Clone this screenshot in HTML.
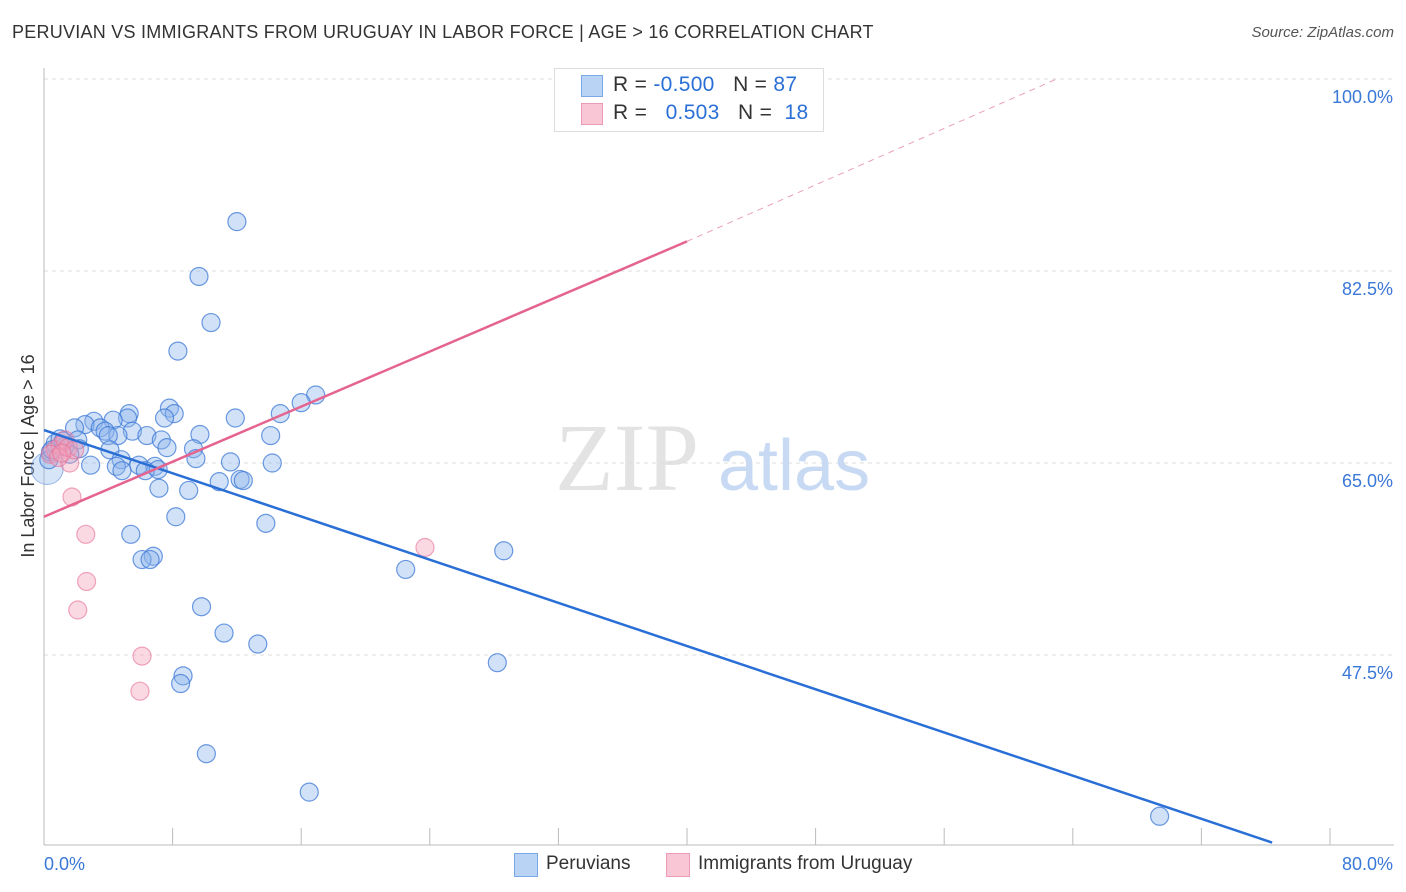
<!DOCTYPE html>
<html><head><meta charset="utf-8"><style>
body{margin:0;background:#fff;font-family:"Liberation Sans",sans-serif}
#wrap{position:relative;width:1406px;height:892px;overflow:hidden}
.t{position:absolute;white-space:nowrap}
</style></head><body>
<div id="wrap">
<div class="t" style="left:12px;top:22px;font-size:18px;letter-spacing:0.25px;color:#333">PERUVIAN VS IMMIGRANTS FROM URUGUAY IN LABOR FORCE | AGE &gt; 16 CORRELATION CHART</div>
<div class="t" style="right:12px;top:24px;font-size:15px;color:#555;font-style:italic">Source: ZipAtlas.com</div>
<svg id="svg" width="1406" height="892" style="position:absolute;left:0;top:0"></svg>
</div>
<script>
const xTicksLbl=["0.0%","80.0%"];
const yTickVals=[100,82.5,65,47.5];
const blueX=[12.0,9.64,10.39,8.33,16.9,16.0,14.7,11.9,7.8,8.1,7.5,5.3,5.2,4.3,3.1,2.55,1.9,3.5,3.8,5.5,4.6,6.4,4.0,9.7,14.1,7.3,2.1,2.2,4.1,9.3,7.65,9.45,4.8,5.9,4.5,2.9,11.6,14.2,6.9,6.3,7.1,4.85,10.9,12.2,12.4,7.15,9.0,8.2,13.8,5.4,6.8,6.1,6.6,22.5,28.6,9.8,11.2,13.3,28.2,8.65,8.5,10.1,16.5,69.4,0.4,0.7,1.0,1.3,1.6,0.3,0.5,1.2];
const blueY=[87.0,82.0,77.8,75.2,71.2,70.5,69.5,69.1,70.0,69.5,69.1,69.5,69.1,68.9,68.8,68.5,68.2,68.2,67.9,67.9,67.5,67.5,67.5,67.6,67.5,67.1,67.1,66.3,66.2,66.3,66.4,65.4,65.3,64.8,64.7,64.8,65.1,65.0,64.7,64.3,64.4,64.3,63.3,63.5,63.4,62.7,62.5,60.1,59.5,58.5,56.5,56.2,56.2,55.3,57.0,51.9,49.5,48.5,46.8,45.6,44.9,38.5,35.0,32.8,66.0,66.8,67.2,66.5,65.8,65.3,66.2,67.0];
const pinkX=[35.3,23.7,1.74,2.6,2.65,2.1,6.1,5.97,1.6,0.7,1.0,1.3,0.4,0.9,1.5,1.9,1.1];
const pinkY=[99.9,57.3,61.9,58.5,54.2,51.6,47.4,44.2,65.0,66.2,66.6,67.1,65.8,65.5,66.4,66.2,65.9];
const blueLine=[[0,68.0],[76.4,30.4]];
const pinkLine=[[0,60.1],[40,85.2]];
const pinkDash=[[40,85.2],[63,100]];
const X=v=>44+v/80*1286, Y=v=>79+(100-v)/17.5*192;
const svg=document.getElementById('svg');const NS='http://www.w3.org/2000/svg';
function mk(t,a,p){const e=document.createElementNS(NS,t);for(const k in a)e.setAttribute(k,a[k]);(p||svg).appendChild(e);return e;}
yTickVals.forEach(v=>{
 const g=mk('line',{x1:44,x2:1394,y1:Y(v),y2:Y(v),stroke:'#ddd','stroke-dasharray':'4,4'});
 
 
 const t=mk('text',{x:1393,y:Y(v)+24,'text-anchor':'end','font-size':18,fill:'#3a78d8'});t.textContent=v.toFixed(1)+'%';
 
 
});
mk('line',{x1:44,x2:44,y1:68,y2:845,stroke:'#bbb'});
mk('line',{x1:44,x2:1394,y1:845,y2:845,stroke:'#bbb'});
for(let i=0;i<=10;i++){const l=mk('line',{x1:X(i*8),x2:X(i*8),y1:828,y2:845,stroke:'#bbb'});
 
 }
[[0,44,'start'],[1,1393,'end']].forEach(([i,x,a])=>{const t=mk('text',{x:x,y:870,'text-anchor':a,'font-size':18,fill:'#3a78d8'});t.textContent=xTicksLbl[i];
 
 });
const yl=mk('text',{transform:'translate(34,456) rotate(-90)','text-anchor':'middle','font-size':18,fill:'#333'});yl.textContent='In Labor Force | Age > 16';


const w1=mk('text',{x:555,y:490,'font-size':96,fill:'#ddd','font-family':'Liberation Serif',opacity:0.8});w1.textContent='ZIP';


const w2=mk('text',{x:718,y:490,'font-size':72,fill:'#c8daf3'});w2.textContent='atlas';


const big=mk('circle',{cx:X(0.2),cy:Y(64.5),r:16,fill:'rgba(140,180,235,0.35)',stroke:'rgba(60,120,215,0.5)','stroke-width':1});


blueX.forEach((x,i)=>{const c=mk('circle',{cx:X(x),cy:Y(blueY[i]),r:9,fill:'rgba(140,180,235,0.4)',stroke:'rgba(60,120,215,0.75)','stroke-width':1.2});
 
 });
pinkX.forEach((x,i)=>{const c=mk('circle',{cx:X(x),cy:Y(pinkY[i]),r:9,fill:'rgba(245,160,185,0.4)',stroke:'rgba(230,110,150,0.6)','stroke-width':1.2});
 
 });
const bl=mk('line',{x1:X(blueLine[0][0]),y1:Y(blueLine[0][1]),x2:X(blueLine[1][0]),y2:Y(blueLine[1][1]),stroke:'#2a6fd6','stroke-width':2.5});


const pl=mk('line',{x1:X(pinkLine[0][0]),y1:Y(pinkLine[0][1]),x2:X(pinkLine[1][0]),y2:Y(pinkLine[1][1]),stroke:'#e5648f','stroke-width':2.5});


const pd=mk('line',{x1:X(pinkDash[0][0]),y1:Y(pinkDash[0][1]),x2:X(pinkDash[1][0]),y2:Y(pinkDash[1][1]),stroke:'#eaa0b8','stroke-width':1,'stroke-dasharray':'6,5'});


</script>
<div class="t" style="left:554px;top:68px;width:268px;height:62px;background:#fff;border:1px solid #ddd">
 <div style="position:absolute;left:26px;top:6px;width:20px;height:20px;background:#b9d3f5;border:1px solid #7aa7e8"></div>
 <div style="position:absolute;left:26px;top:34px;width:20px;height:20px;background:#f9c6d6;border:1px solid #ec9ab5"></div>
 <div class="t" style="left:58px;top:4px;font-size:21px;letter-spacing:0.3px;color:#333">R = <span style="color:#2a6fd6">-0.500</span>&nbsp;&nbsp;&nbsp;N = <span style="color:#2a6fd6">87</span></div>
 <div class="t" style="left:58px;top:32px;font-size:21px;letter-spacing:0.3px;color:#333">R = &nbsp;&nbsp;<span style="color:#2a6fd6">0.503</span>&nbsp;&nbsp;&nbsp;N = &nbsp;<span style="color:#2a6fd6">18</span></div>
</div>
<div class="t" style="left:514px;top:853px;width:22px;height:22px;background:#b9d3f5;border:1px solid #7aa7e8"></div>
<div class="t" style="left:546px;top:853px;font-size:19px;color:#333">Peruvians</div>
<div class="t" style="left:666px;top:853px;width:22px;height:22px;background:#f9c6d6;border:1px solid #ec9ab5"></div>
<div class="t" style="left:698px;top:853px;font-size:19px;color:#333">Immigrants from Uruguay</div>
</body></html>
